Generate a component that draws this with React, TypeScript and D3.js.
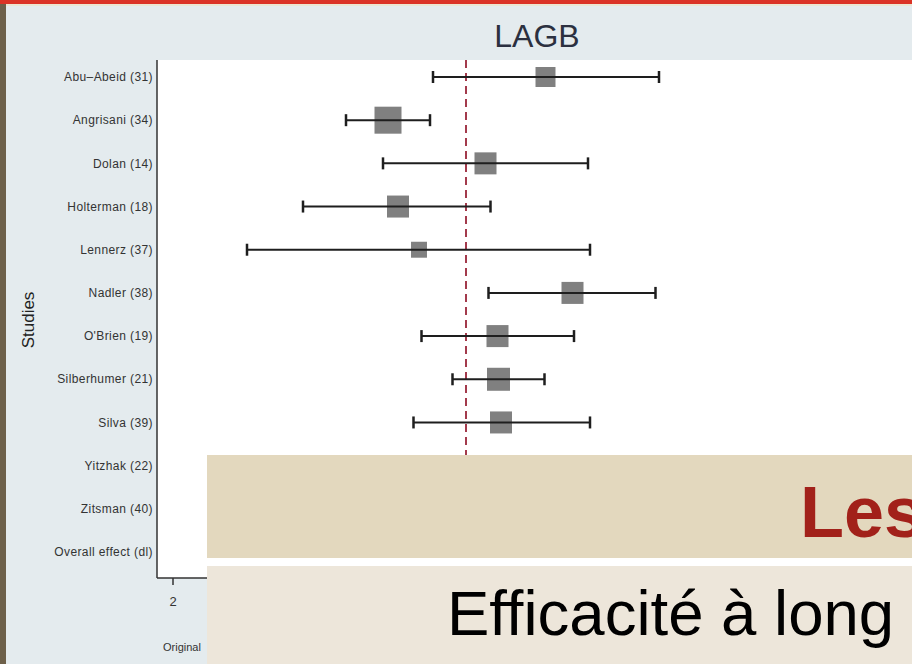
import React from "react";
import * as d3 from "d3";

// ---- data ----
const studies = [
  "Abu–Abeid (31)",
  "Angrisani (34)",
  "Dolan (14)",
  "Holterman (18)",
  "Lennerz (37)",
  "Nadler (38)",
  "O'Brien (19)",
  "Silberhumer (21)",
  "Silva (39)",
  "Yitzhak (22)",
  "Zitsman (40)",
  "Overall effect (dl)",
];
// rows hidden behind the slide overlay are left empty (null)
const estimates: (number | null)[] = [9.45, 6.3, 8.25, 6.5, 6.92, 9.99, 8.49, 8.51, 8.56, null, null, null];
const lowerCI: (number | null)[] = [7.2, 5.46, 6.2, 4.6, 3.48, 8.31, 6.97, 7.59, 6.81, null, null, null];
const upperCI: (number | null)[] = [11.72, 7.14, 10.3, 8.35, 10.34, 11.65, 10.02, 9.43, 10.34, null, null, null];
const weights: (number | null)[] = [8.0, 14.6, 9.7, 9.7, 5.1, 9.7, 9.7, 10.6, 9.7, null, null, null];
const overallEffect = 7.86;
const xTicks = [2];

const FONT = "'Liberation Sans', Arial, Helvetica, sans-serif";

export default function App() {
  const W = 912;
  const H = 664;
  const plotLeft = 157;
  const plotTop = 60;
  const plotBottom = 578;

  const x = d3.scaleLinear().domain([1.68, 16.78]).range([plotLeft, W]);
  const y = d3.scalePoint<string>().domain(studies).range([77, 552]);
  const size = d3
    .scaleSqrt()
    .domain([0, d3.max(weights.filter((w) => w != null) as number[]) as number])
    .range([0, 27]);

  const capH = 6;

  return (
    <svg
      width={W}
      height={H}
      viewBox={`0 0 ${W} ${H}`}
      style={{ position: "absolute", left: 0, top: 0, display: "block" }}
      fontFamily={FONT}
    >
      {/* chart background */}
      <rect x={0} y={0} width={W} height={H} fill="#e4ebee" />
      {/* plot region */}
      <rect x={plotLeft} y={plotTop} width={W - plotLeft} height={plotBottom - plotTop} fill="#ffffff" />

      {/* title */}
      <text x={537} y={47} textAnchor="middle" fontSize={32} fill="#2b3040">
        LAGB
      </text>

      {/* y-axis title */}
      <text
        transform={`translate(34,320) rotate(-90)`}
        textAnchor="middle"
        fontSize={17}
        fill="#222"
      >
        Studies
      </text>

      {/* study labels */}
      {studies.map((s) => (
        <text
          key={s}
          x={153}
          y={y(s)}
          dy="0.35em"
          textAnchor="end"
          fontSize={12}
          letterSpacing={0.4}
          fill="#333"
        >
          {s}
        </text>
      ))}

      {/* overall effect reference line */}
      <line
        x1={x(overallEffect)}
        x2={x(overallEffect)}
        y1={plotTop}
        y2={plotBottom}
        stroke="#a33a4c"
        strokeWidth={2}
        strokeDasharray="8,5"
      />

      {/* CIs and markers */}
      {studies.map((s, i) => {
        const est = estimates[i];
        const lo = lowerCI[i];
        const hi = upperCI[i];
        const w = weights[i];
        if (est == null || lo == null || hi == null || w == null) return null;
        const cy = y(s) as number;
        const sz = size(w);
        return (
          <g key={s}>
            <rect
              x={x(est) - sz / 2}
              y={cy - sz / 2}
              width={sz}
              height={sz}
              fill="#808080"
            />
            <line x1={x(lo)} x2={x(hi)} y1={cy} y2={cy} stroke="#1e1e1e" strokeWidth={2} />
            <line x1={x(lo)} x2={x(lo)} y1={cy - capH} y2={cy + capH} stroke="#1e1e1e" strokeWidth={2.5} />
            <line x1={x(hi)} x2={x(hi)} y1={cy - capH} y2={cy + capH} stroke="#1e1e1e" strokeWidth={2.5} />
          </g>
        );
      })}

      {/* axes */}
      <line x1={plotLeft} x2={plotLeft} y1={plotTop} y2={plotBottom} stroke="#333" strokeWidth={1.5} />
      <line x1={plotLeft} x2={W} y1={plotBottom} y2={plotBottom} stroke="#333" strokeWidth={1.5} />
      {xTicks.map((t) => (
        <g key={t}>
          <line x1={x(t)} x2={x(t)} y1={plotBottom} y2={plotBottom + 7} stroke="#333" strokeWidth={1.5} />
          <text x={x(t)} y={606} textAnchor="middle" fontSize={13} fill="#333">
            {t}
          </text>
        </g>
      ))}
      <text x={163} y={651} fontSize={11} fill="#333">
        Original
      </text>

      {/* slide overlay */}
      <rect x={207} y={455} width={W - 207} height={103} fill="#e3d8be" />
      <rect x={207} y={558} width={W - 207} height={8} fill="#ffffff" />
      <rect x={207} y={566} width={W - 207} height={H - 566} fill="#ede6da" />
      <text x={800} y={537} fontSize={72} fontWeight="bold" fill="#a2211a">
        Les
      </text>
      <text x={447} y={635} fontSize={63.5} fill="#000000">
        Efficacité à long
      </text>

      {/* slide frame */}
      <rect x={0} y={0} width={W} height={4} fill="#db3326" />
      <rect x={0} y={4} width={W} height={2} fill="#ebe6d2" />
      <rect x={0} y={4} width={6} height={H - 4} fill="#6d604a" />
    </svg>
  );
}
